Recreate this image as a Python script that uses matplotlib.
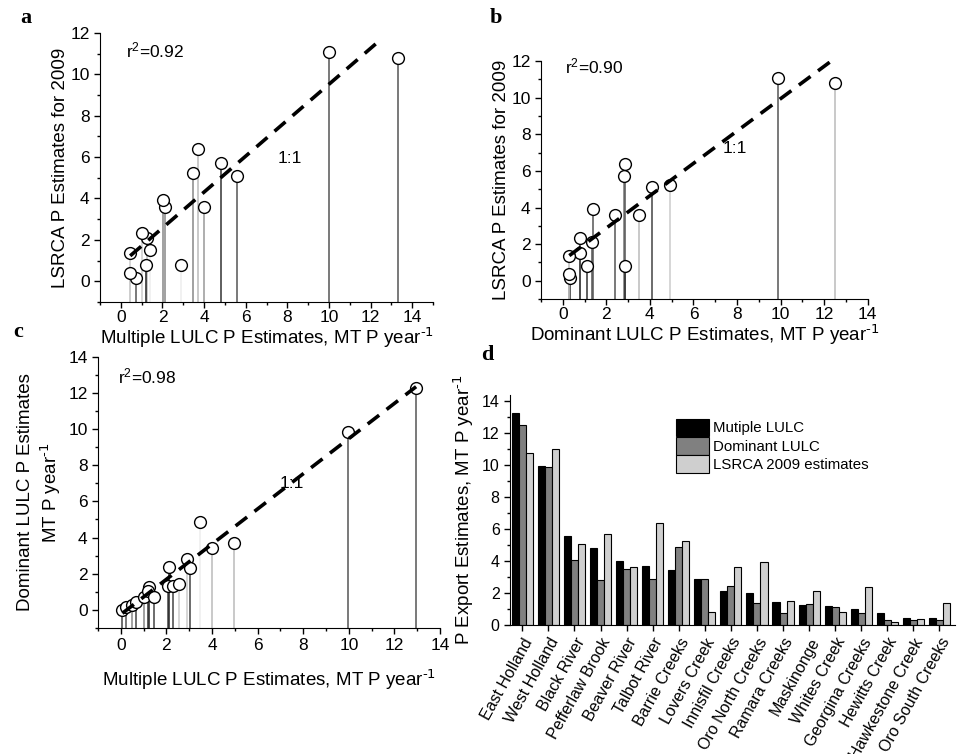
# Comparison of P export estimates: multiple LULC vs dominant LULC vs LSRCA 2009
import numpy as np
import matplotlib
matplotlib.use("Agg")
import matplotlib.pyplot as plt
import matplotlib.transforms as mtransforms
from matplotlib.ticker import MultipleLocator

plt.rcParams['font.family'] = ['Liberation Sans', 'DejaVu Sans']
plt.rcParams['mathtext.default'] = 'regular'
plt.rcParams['axes.unicode_minus'] = False

# watershed data (MT P / year)
watersheds = ['East Holland', 'West Holland', 'Black River', 'Pefferlaw Brook', 'Beaver River',
              'Talbot River', 'Barrie Creeks', 'Lovers Creek', 'Innisfil Creeks', 'Oro North Creeks',
              'Ramara Creeks', 'Maskinonge', 'Whites Creek', 'Georgina Creeks', 'Hewitts Creek',
              'Hawkestone Creek', 'Oro South Creeks']
multiple_lulc = [13.3, 9.98, 5.6, 4.8, 4.0, 3.7, 3.45, 2.9, 2.1, 2.02, 1.42, 1.25, 1.2, 1.0, 0.75, 0.45, 0.45]
dominant_lulc = [12.5, 9.9, 4.08, 2.8, 3.48, 2.85, 4.9, 2.87, 2.42, 1.37, 0.78, 1.32, 1.12, 0.78, 0.34, 0.3, 0.3]
lsrca_2009 = [10.8, 11.05, 5.1, 5.7, 3.6, 6.4, 5.25, 0.8, 3.6, 3.92, 1.52, 2.1, 0.8, 2.35, 0.17, 0.38, 1.35]

# panel c points (multiple vs dominant, as plotted)
c_multiple = [0.07, 0.22, 0.5, 0.65, 1.0, 1.22, 1.2, 1.47, 2.05, 2.13, 2.27, 2.56, 2.92, 3.04, 3.46, 4.02, 4.98, 9.98, 12.95]
c_dominant = [0.02, 0.15, 0.28, 0.42, 0.74, 1.28, 1.07, 0.74, 1.3, 2.35, 1.32, 1.43, 2.83, 2.3, 4.86, 3.43, 3.68, 9.86, 12.27]

r2_values = {'a': 0.92, 'b': 0.90, 'c': 0.98}

# drop line shades (styling only)
stem_a = ['#555555', '#555555', '#555555', '#333333', '#999999', '#bbbbbb', '#888888', '#eeeeee', '#888888',
          '#888888', '#eeeeee', '#bbbbbb', '#222222', '#cccccc', '#555555', '#cccccc', '#cccccc']
stem_b = ['#bbbbbb', '#555555', '#444444', '#777777', '#bbbbbb', '#555555', '#cccccc', '#333333', '#555555',
          '#555555', '#444444', '#555555', '#333333', '#444444', '#333333', '#888888', '#bbbbbb']
stem_c = ['#444444', '#555555', '#888888', '#444444', '#888888', '#222222', '#333333', '#444444', '#444444',
          '#222222', '#444444', '#cccccc', '#cccccc', '#444444', '#eeeeee', '#bbbbbb', '#bbbbbb', '#555555', '#555555']

per_year = r'MT P year$^{\text{-1}}$'

fig = plt.figure(figsize=(9.57, 7.54), dpi=100)

def scatter_panel(rect, x, y, stems, ylim, xlim, ylab, xlab, r2, r2_pos, one_pos, fit_stop=None,
                  xpad=0, tpad=2):
    ax = fig.add_axes(rect)
    x = np.asarray(x)
    y = np.asarray(y)
    ax.vlines(x, ylim[0], y, colors=stems, linewidth=1.1, zorder=1)
    ax.plot(x, y, 'o', ms=8.5, mfc='white', mec='black', mew=1.0, zorder=2)
    k, b = np.polyfit(x, y, 1)
    hi = x.max() if fit_stop is None else fit_stop
    xs = np.array([x.min(), hi])
    ax.plot(xs, k * xs + b, color='black', lw=2.6, dashes=(4, 2.6), zorder=3)
    ax.text(r2_pos[0], r2_pos[1], 'r$^{2}$=%.2f' % r2, fontsize=12.5)
    ax.text(one_pos[0], one_pos[1], '1:1', fontsize=12.5)
    ax.set_xlim(xlim)
    ax.set_ylim(ylim)
    ax.xaxis.set_minor_locator(MultipleLocator(1))
    ax.yaxis.set_minor_locator(MultipleLocator(1))
    ax.set_xticks(np.arange(0, 15, 2))
    ax.set_yticks(np.arange(0, ylim[1] + 0.1, 2))
    ax.spines['top'].set_visible(False)
    ax.spines['right'].set_visible(False)
    ax.tick_params(which='major', direction='out', length=4, width=1, labelsize=12.5)
    ax.tick_params(which='minor', direction='out', length=2.5, width=1)
    ax.tick_params(axis='x', pad=tpad)
    ax.set_ylabel(ylab, fontsize=13.5)
    ax.set_xlabel(xlab, fontsize=13.5, labelpad=xpad)
    return ax

xlab_m = 'Multiple LULC P Estimates, ' + per_year
xlab_d = 'Dominant LULC P Estimates, ' + per_year

# a
ax_a = scatter_panel([0.1045, 0.5995, 0.348, 0.357], multiple_lulc, lsrca_2009, stem_a, (-1, 12), (-1, 15),
                     'LSRCA P Estimates for 2009', xlab_m, r2_values['a'], (0.25, 10.8), (7.55, 5.7),
                     fit_stop=12.5)
ax_a.yaxis.labelpad = 1
# b
ax_b = scatter_panel([0.5653, 0.6034, 0.3414, 0.3156], dominant_lulc, lsrca_2009, stem_b, (-1, 12), (-1, 14),
                     'LSRCA P Estimates for 2009', xlab_d, r2_values['b'], (0.12, 11.35), (7.33, 7.0))
ax_b.yaxis.labelpad = 1
# c
ax_c = scatter_panel([0.1024, 0.1671, 0.3574, 0.3598], c_multiple, c_dominant, stem_c, (-1, 14), (-1, 14),
                     'Dominant LULC P Estimates\n' + per_year, xlab_m, r2_values['c'], (-0.12, 12.54),
                     (6.97, 6.74), xpad=10, tpad=3.5)

# d - grouped bars
ax_d = fig.add_axes([0.533, 0.1711, 0.465, 0.305])
pos = np.arange(len(watersheds))
w = 0.27
ax_d.bar(pos - w, multiple_lulc, w, color='black', edgecolor='black', lw=0.8, label='Mutiple LULC')
ax_d.bar(pos, dominant_lulc, w, color='#808080', edgecolor='black', lw=0.8, label='Dominant LULC')
ax_d.bar(pos + w, lsrca_2009, w, color='#cfcfcf', edgecolor='black', lw=0.8, label='LSRCA 2009 estimates')
ax_d.set_xlim(-0.47, 16.6)
ax_d.set_ylim(0, 14.4)
ax_d.set_xticks(pos)
ax_d.set_xticklabels(watersheds, rotation=61, ha='right', va='top', rotation_mode='anchor', fontsize=10)
shift = mtransforms.ScaledTranslation(6 / 100, -4 / 100, fig.dpi_scale_trans)
for lab in ax_d.get_xticklabels():
    lab.set_transform(lab.get_transform() + shift)
ax_d.yaxis.set_major_locator(MultipleLocator(2))
ax_d.yaxis.set_minor_locator(MultipleLocator(1))
ax_d.spines['top'].set_visible(False)
ax_d.spines['right'].set_visible(False)
ax_d.tick_params(which='major', direction='out', length=4, width=1, labelsize=11.5)
ax_d.tick_params(which='minor', direction='out', length=2.5, width=1)
ax_d.set_ylabel('P Export Estimates, ' + per_year, fontsize=13.5, labelpad=4)
ax_d.legend(loc='upper left', bbox_to_anchor=(0.355, 0.93), frameon=False, fontsize=10.8,
            handlelength=2.2, handleheight=1.45, labelspacing=0.02, handletextpad=0.3, borderpad=0)

# panel letters
for letter, (px, py) in zip('abcd', [(20, 23), (490, 23), (13, 337), (481, 360)]):
    fig.text(px / 957, 1 - py / 754, letter, fontsize=16, fontweight='bold', family='Liberation Serif')

fig.savefig('out.png', dpi=100)
